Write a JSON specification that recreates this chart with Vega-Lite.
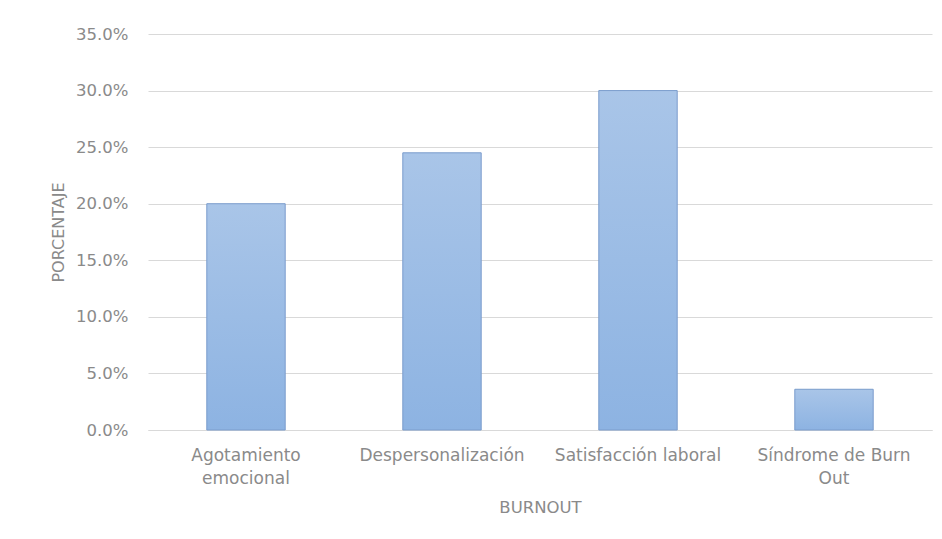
{
  "$schema": "https://vega.github.io/schema/vega-lite/v6.json",
  "autosize": {"type": "none"},
  "padding": {"left": 148, "top": 34, "right": 10, "bottom": 109},
  "width": 784,
  "height": 396,
  "background": "white",
  "config": {
    "font": "DejaVu Sans",
    "view": {"stroke": null}
  },
  "data": {
    "values": [
      {"categoria": "Agotamiento emocional", "porcentaje": 0.20},
      {"categoria": "Despersonalización", "porcentaje": 0.245},
      {"categoria": "Satisfacción laboral", "porcentaje": 0.30},
      {"categoria": "Síndrome de Burn Out", "porcentaje": 0.036}
    ]
  },
  "mark": {
    "type": "bar",
    "stroke": "#7a9ccc",
    "strokeWidth": 1,
    "color": {
      "gradient": "linear",
      "x1": 0, "y1": 0, "x2": 0, "y2": 1,
      "stops": [
        {"offset": 0, "color": "#a9c5e8"},
        {"offset": 1, "color": "#8db3e2"}
      ]
    }
  },
  "encoding": {
    "x": {
      "field": "categoria",
      "type": "nominal",
      "sort": null,
      "scale": {"paddingInner": 0.6, "paddingOuter": 0.3},
      "axis": {
        "title": "BURNOUT",
        "titleFont": "DejaVu Sans",
        "titleFontSize": 16.5,
        "titleFontWeight": "normal",
        "titleColor": "#8a8a8a",
        "titlePadding": 13,
        "labelAngle": 0,
        "labelFont": "DejaVu Sans",
        "labelFontSize": 17,
        "labelColor": "#8a8a8a",
        "labelPadding": 17,
        "labelLimit": 300,
        "labelExpr": "datum.label == 'Agotamiento emocional' ? ['Agotamiento', 'emocional'] : datum.label == 'Síndrome de Burn Out' ? ['Síndrome de Burn', 'Out'] : datum.label",
        "labelLineHeight": 23,
        "ticks": false,
        "domainColor": "#d9d9d9",
        "domainWidth": 1
      }
    },
    "y": {
      "field": "porcentaje",
      "type": "quantitative",
      "scale": {"domain": [0, 0.35]},
      "axis": {
        "title": "PORCENTAJE",
        "titleFont": "DejaVu Sans",
        "titleFontSize": 16,
        "titleFontWeight": "normal",
        "titleColor": "#8a8a8a",
        "titlePadding": 9,
        "format": ".1%",
        "values": [0, 0.05, 0.1, 0.15, 0.2, 0.25, 0.3, 0.35],
        "labelFont": "DejaVu Sans",
        "labelFontSize": 16.5,
        "labelColor": "#8a8a8a",
        "labelPadding": 20,
        "ticks": false,
        "domain": false,
        "gridColor": "#d9d9d9",
        "gridWidth": 1
      }
    }
  }
}
